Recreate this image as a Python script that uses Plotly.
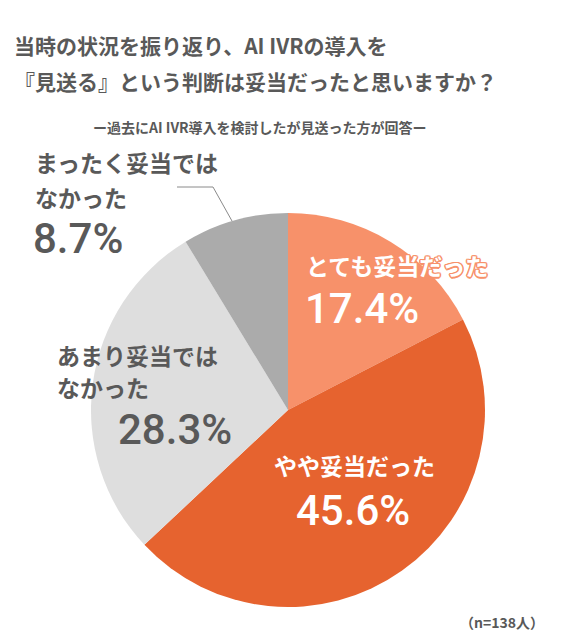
import plotly.graph_objects as go

# the page body has an 8px margin, so the figure is drawn 8px in from the window edge
OFF = 8
W, H = 571 - 2 * OFF, 642 - 2 * OFF

labels = ["とても妥当だった", "やや妥当だった", "あまり妥当ではなかった", "まったく妥当ではなかった"]
values = [17.4, 45.6, 28.3, 8.7]
colors = ["#F7916A", "#E6632F", "#DEDEDE", "#ABABAB"]
title_lines = ["当時の状況を振り返り、AI IVRの導入を", "『見送る』という判断は妥当だったと思いますか？"]
subtitle = "ー過去にAI IVR導入を検討したが見送った方が回答ー"
note = "（n=138人）"

JP = "Noto Sans CJK JP"
NUM = "Roboto, Noto Sans CJK JP"
GRAY = "#595959"


def px(x, y):
    # window pixel coords -> paper coords
    return (x - OFF) / W, 1 - (y - OFF) / H


cx, cy, r = 288, 410, 197
x0, y1 = px(cx - r, cy + r)
x1, y0 = px(cx + r, cy - r)

fig = go.Figure(go.Pie(
    labels=labels, values=values, sort=False, direction="clockwise", rotation=0,
    marker=dict(colors=colors, line=dict(width=0)),
    textinfo="none", hoverinfo="label+percent", showlegend=False,
    domain=dict(x=[x0, x1], y=[y1, y0]),
))

ann = []


def add(text, x, y, size, color, font=JP, xanchor="center", yanchor="middle", weight="bold", shadow=None):
    ax, ay = px(x, y)
    f = dict(family=font, size=size, color=color, weight=weight)
    if shadow:
        f["shadow"] = shadow
    ann.append(dict(text=text, x=ax, y=ay, xref="paper", yref="paper", showarrow=False,
                    xanchor=xanchor, yanchor=yanchor, font=f))


# title and subtitle
add(title_lines[0], 12, 45, 21, GRAY, xanchor="left")
add(title_lines[1], 12, 81, 21, GRAY, xanchor="left")
add(subtitle, 260, 127, 14, GRAY)
add(note, 502, 634, 14, GRAY, yanchor="bottom")

outline = ", ".join(f"{dx}px {dy}px 0 #F7916A" for dx, dy in
                    [(-1, -1), (1, -1), (-1, 1), (1, 1), (0, 1.5), (0, -1.5), (1.5, 0), (-1.5, 0)])

# slice labels
add(labels[0], 397, 265, 23, "white", shadow=outline)
add(f"{values[0]}%", 362, 308, 42, "white", font=NUM, weight=500)
add(labels[1], 354, 465, 23, "white")
add(f"{values[1]}%", 353, 510, 42, "white", font=NUM, weight=500)
add("あまり妥当では", 55, 355, 23, GRAY, xanchor="left")
add("なかった", 55, 387, 23, GRAY, xanchor="left")
add(f"{values[2]}%", 175, 429, 42, GRAY, font=NUM, weight=500)
add("まったく妥当では", 33, 162, 23, GRAY, xanchor="left")
add("なかった", 33, 197, 23, GRAY, xanchor="left")
add(f"{values[3]}%", 31, 239, 42, GRAY, font=NUM, xanchor="left", weight=500)

fig.update_layout(
    width=W, height=H, margin=dict(l=0, r=0, t=0, b=0),
    paper_bgcolor="white", plot_bgcolor="white",
    annotations=ann,
    shapes=[dict(type="path", xref="paper", yref="paper",
                 path="M {} {} L {} {} L {} {}".format(*px(177, 187), *px(213, 187), *px(232, 221)),
                 line=dict(color="#8A8A8A", width=1))],
)

fig.write_html("out.html")
